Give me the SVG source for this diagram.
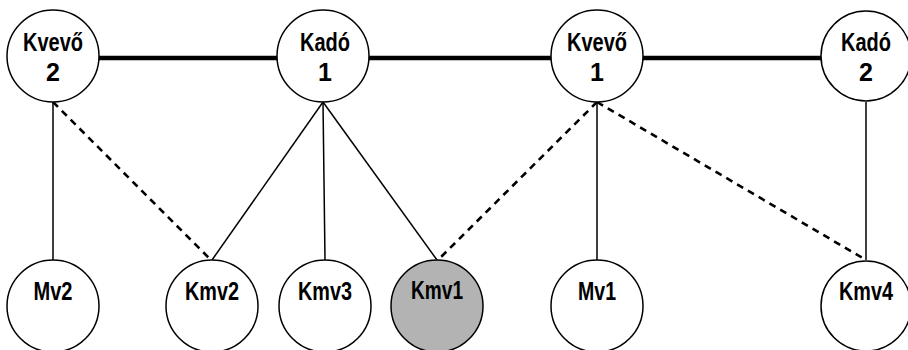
<svg xmlns="http://www.w3.org/2000/svg" width="908" height="350" viewBox="0 0 908 350">
<style>
.n circle{fill:#fff;stroke:#000;stroke-width:1.5}
.n.g circle{fill:#b3b3b3}
text{font-family:"Liberation Sans",Arial,sans-serif;font-weight:bold;font-size:25px;text-anchor:middle;fill:#000}
.thick{stroke:#000;stroke-width:4.5;fill:none}
.solid{stroke:#000;stroke-width:1.5;fill:none}
.dash{stroke:#000;stroke-width:2.6;stroke-dasharray:7,5.5;fill:none}
</style>
<rect width="908" height="350" fill="#fff"/>
<g id="connectors">
<line class="thick" x1="99" y1="58" x2="277" y2="58"/>
<line class="thick" x1="369" y1="58" x2="551" y2="58"/>
<line class="thick" x1="643" y1="58" x2="821" y2="58"/>
<line class="solid" x1="53" y1="102" x2="53" y2="260"/>
<line class="dash" x1="53" y1="102" x2="210" y2="259"/>
<line class="solid" x1="323" y1="102" x2="212" y2="260"/>
<line class="solid" x1="323" y1="102" x2="325" y2="260"/>
<line class="solid" x1="323" y1="102" x2="437" y2="260"/>
<line class="dash" x1="597" y1="102" x2="439" y2="259"/>
<line class="solid" x1="597" y1="102" x2="597" y2="260"/>
<line class="dash" x1="597" y1="102" x2="866" y2="260"/>
<line class="solid" x1="866" y1="102" x2="866" y2="260"/>
</g>
<g id="kvevo2" class="n"><circle cx="53" cy="56" r="46"/><text x="53" y="51" textLength="60" lengthAdjust="spacingAndGlyphs">Kvevő</text><text x="53" y="81">2</text></g>
<g id="kado1" class="n"><circle cx="323" cy="56" r="46"/><text x="325" y="51" textLength="50" lengthAdjust="spacingAndGlyphs">Kadó</text><text x="325" y="81">1</text></g>
<g id="kvevo1" class="n"><circle cx="597" cy="56" r="46"/><text x="597" y="51" textLength="60" lengthAdjust="spacingAndGlyphs">Kvevő</text><text x="597" y="81">1</text></g>
<g id="kado2" class="n"><circle cx="866" cy="56" r="45"/><text x="866" y="51" textLength="50" lengthAdjust="spacingAndGlyphs">Kadó</text><text x="866" y="81">2</text></g>
<g id="mv2" class="n"><circle cx="53" cy="306" r="46"/><text x="53" y="300" textLength="39" lengthAdjust="spacingAndGlyphs">Mv2</text></g>
<g id="kmv2" class="n"><circle cx="212" cy="306" r="46"/><text x="212" y="300" textLength="54" lengthAdjust="spacingAndGlyphs">Kmv2</text></g>
<g id="kmv3" class="n"><circle cx="325" cy="306" r="46"/><text x="325" y="300" textLength="54" lengthAdjust="spacingAndGlyphs">Kmv3</text></g>
<g id="kmv1" class="n g"><circle cx="437" cy="306" r="46"/><text x="437" y="299" textLength="52" lengthAdjust="spacingAndGlyphs">Kmv1</text></g>
<g id="mv1" class="n"><circle cx="597" cy="306" r="46"/><text x="597" y="300" textLength="38" lengthAdjust="spacingAndGlyphs">Mv1</text></g>
<g id="kmv4" class="n"><circle cx="866" cy="306" r="45"/><text x="866" y="300" textLength="54" lengthAdjust="spacingAndGlyphs">Kmv4</text></g>
</svg>
